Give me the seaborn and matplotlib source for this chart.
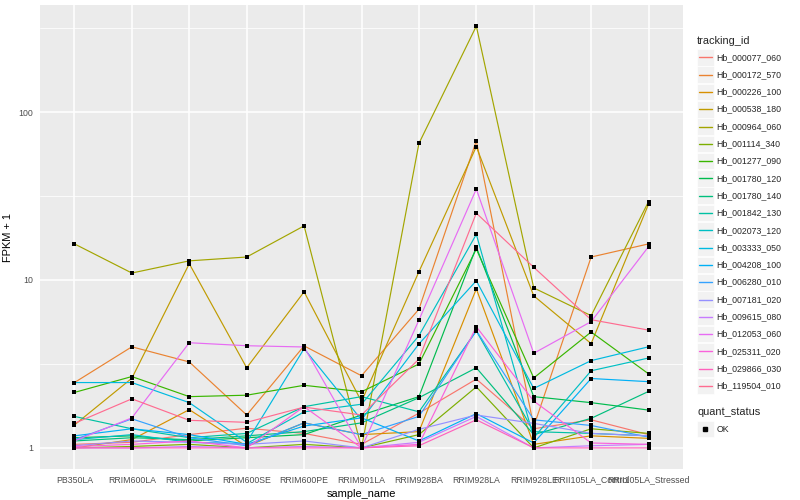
import numpy as np
import pandas as pd
import matplotlib
matplotlib.use("Agg")
import matplotlib.pyplot as plt
import seaborn as sns
from matplotlib.patches import Rectangle
from matplotlib.lines import Line2D

sns.set_theme(style="darkgrid")
plt.rcParams['font.family'] = ['Liberation Sans', 'DejaVu Sans']

samples = ["PB350LA", "RRIM600LA", "RRIM600LE", "RRIM600SE", "RRIM600PE", "RRIM901LA",
           "RRIM928BA", "RRIM928LA", "RRIM928LE", "RRII105LA_Control", "RRII105LA_Stressed"]

tracking_ids = ["Hb_000077_060", "Hb_000172_570", "Hb_000226_100", "Hb_000538_180",
                "Hb_000964_060", "Hb_001114_340", "Hb_001277_090", "Hb_001780_120",
                "Hb_001780_140", "Hb_001842_130", "Hb_002073_120", "Hb_003333_050",
                "Hb_004208_100", "Hb_006280_010", "Hb_007181_020", "Hb_009615_080",
                "Hb_012053_060", "Hb_025311_020", "Hb_029866_030", "Hb_119504_010"]

# FPKM + 1 (one value per sample)
hb_000077_060 = [1.05, 1.08, 1.2, 1.31, 1.22, 1.05, 1.61, 2.57, 1.3, 1.47, 1.2]
hb_000172_570 = [2.45, 4.0, 3.25, 1.57, 4.05, 2.69, 6.7, 67.5, 1.34, 13.7, 16.4]
hb_000226_100 = [1.0, 1.12, 1.69, 1.02, 1.41, 1.2, 1.25, 8.85, 1.05, 1.18, 1.14]
hb_000538_180 = [1.37, 2.6, 12.5, 3.0, 8.5, 1.89, 11.2, 62.2, 8.05, 4.18, 28.3]
hb_000964_060 = [16.4, 11.0, 13.0, 13.7, 21.0, 1.0, 65.0, 325.0, 8.97, 6.13, 29.3]
hb_001114_340 = [1.0, 1.02, 1.05, 1.0, 1.05, 1.0, 1.2, 2.31, 1.0, 1.3, 1.22]
hb_001277_090 = [2.14, 2.66, 2.02, 2.06, 2.36, 2.16, 3.16, 15.3, 2.61, 4.9, 2.76]
hb_001780_120 = [1.15, 1.18, 1.1, 1.15, 1.2, 1.57, 2.02, 15.7, 2.02, 1.86, 1.68]
hb_001780_140 = [1.1, 1.15, 1.12, 1.18, 1.25, 1.41, 1.99, 3.0, 1.2, 1.5, 2.17]
hb_001842_130 = [1.54, 1.3, 1.15, 1.22, 1.76, 2.02, 1.64, 4.97, 1.25, 1.22, 1.18]
hb_002073_120 = [1.12, 1.2, 1.08, 1.06, 1.64, 1.82, 4.66, 18.7, 1.15, 2.88, 3.43]
hb_003333_050 = [2.45, 2.45, 1.86, 1.08, 3.9, 1.47, 4.16, 9.9, 2.26, 3.31, 4.0]
hb_004208_100 = [1.18, 1.3, 1.2, 1.05, 1.35, 1.51, 1.1, 1.6, 1.07, 2.59, 2.48]
hb_006280_010 = [1.12, 1.49, 1.15, 1.03, 1.41, 1.2, 1.54, 5.0, 1.47, 1.36, 1.16]
hb_007181_020 = [1.03, 1.1, 1.08, 1.05, 1.1, 1.0, 1.29, 1.57, 1.4, 1.22, 1.18]
hb_009615_080 = [1.0, 1.0, 1.02, 1.0, 1.02, 1.0, 1.08, 1.54, 1.0, 1.03, 1.05]
hb_012053_060 = [1.1, 1.51, 4.23, 4.06, 3.99, 1.0, 5.77, 34.8, 3.66, 5.65, 15.8]
hb_025311_020 = [1.02, 1.05, 1.1, 1.0, 1.76, 1.0, 1.05, 5.27, 1.9, 1.07, 1.05]
hb_029866_030 = [1.0, 1.0, 1.0, 1.0, 1.0, 1.0, 1.03, 1.47, 1.0, 1.0, 1.0]
hb_119504_010 = [1.4, 1.96, 1.46, 1.42, 1.75, 1.57, 3.38, 25.0, 11.9, 5.8, 5.03]

series_values = [hb_000077_060, hb_000172_570, hb_000226_100, hb_000538_180,
                 hb_000964_060, hb_001114_340, hb_001277_090, hb_001780_120,
                 hb_001780_140, hb_001842_130, hb_002073_120, hb_003333_050,
                 hb_004208_100, hb_006280_010, hb_007181_020, hb_009615_080,
                 hb_012053_060, hb_025311_020, hb_029866_030, hb_119504_010]

# ggplot2 default hue palette for 20 levels
colors = ["#F8766D", "#EA8331", "#D89000", "#C09B00", "#A3A500", "#7CAE00", "#39B600",
          "#00BB4E", "#00BF7D", "#00C1A3", "#00BFC4", "#00BAE0", "#00B0F6", "#35A2FF",
          "#9590FF", "#C77CFF", "#E76BF3", "#FA62DB", "#FF62BC", "#FF6C91"]

rows = []
for tid, vals in zip(tracking_ids, series_values):
    for s, v in zip(samples, vals):
        rows.append((tid, s, v))
df = pd.DataFrame(rows, columns=["tracking_id", "sample_name", "fpkm1"])
df["pos"] = df["sample_name"].map({s: i for i, s in enumerate(samples)})

fig = plt.figure(figsize=(8, 5), dpi=100)
ax = fig.add_axes([40 / 800, 1 - 469 / 500, 643 / 800, 464 / 500])
ax.set_facecolor("#EBEBEB")

sns.lineplot(data=df, x="pos", y="fpkm1", hue="tracking_id", hue_order=tracking_ids,
             palette=colors, estimator=None, sort=False, linewidth=0.85,
             legend=False, ax=ax, zorder=3)
sns.scatterplot(data=df, x="pos", y="fpkm1", color="black", marker="s", s=7,
                linewidth=0, legend=False, ax=ax, zorder=4)

ax.set_yscale("log")
lo, hi = np.log10(df["fpkm1"].min()), np.log10(df["fpkm1"].max())
pad = 0.05 * (hi - lo)
ax.set_ylim(10 ** (lo - pad), 10 ** (hi + pad))
ax.set_xlim(-0.6, len(samples) - 0.4)

ax.set_yticks([1, 10, 100])
ax.set_yticklabels(["1", "10", "100"])
ax.set_yticks([10 ** 0.5, 10 ** 1.5, 10 ** 2.5], minor=True)
ax.yaxis.set_minor_formatter(matplotlib.ticker.NullFormatter())
ax.set_xticks(range(len(samples)))
ax.set_xticklabels(samples)

ax.grid(which="major", color="white", linewidth=1.1)
ax.grid(which="minor", axis="y", color="white", linewidth=0.55)
ax.grid(which="minor", axis="x", visible=False)
for sp in ax.spines.values():
    sp.set_visible(False)
ax.tick_params(axis="both", which="major", length=2.7, width=0.8, color="#333333",
               labelsize=6.3, labelcolor="#4D4D4D", pad=2)
ax.tick_params(axis="y", which="minor", length=0)
ax.set_xlabel("sample_name", fontsize=7.9, color="black", labelpad=3)
ax.set_ylabel("FPKM + 1", fontsize=7.9, color="black", labelpad=4)

# legend drawn in the ggplot style
def fx(px):
    return px / 800

def fy(py):
    return 1 - py / 500

fig.text(fx(697), fy(40.5), "tracking_id", fontsize=7.9, va="center", ha="left")
for i, (tid, c) in enumerate(zip(tracking_ids, colors)):
    yc = 57.3 + i * 17.3
    fig.add_artist(Rectangle((fx(697), fy(yc + 8.3)), 16.6 / 800, 16.6 / 500,
                             transform=fig.transFigure, facecolor="#F2F2F2",
                             edgecolor="white", linewidth=0.5))
    fig.add_artist(Line2D([fx(698.5), fx(712)], [fy(yc), fy(yc)], transform=fig.transFigure,
                          color=c, linewidth=1.0))
    fig.text(fx(716.5), fy(yc), tid, fontsize=6.3, va="center", ha="left")

fig.text(fx(697), fy(412), "quant_status", fontsize=7.9, va="center", ha="left")
fig.add_artist(Rectangle((fx(697), fy(429 + 8.3)), 16.6 / 800, 16.6 / 500,
                         transform=fig.transFigure, facecolor="#F2F2F2",
                         edgecolor="white", linewidth=0.5))
fig.add_artist(Line2D([fx(705)], [fy(429)], transform=fig.transFigure, color="black",
                      marker="s", markersize=2.6, linestyle="none"))
fig.text(fx(716.5), fy(429), "OK", fontsize=6.3, va="center", ha="left")

fig.savefig("out.png", dpi=100, facecolor="white")
